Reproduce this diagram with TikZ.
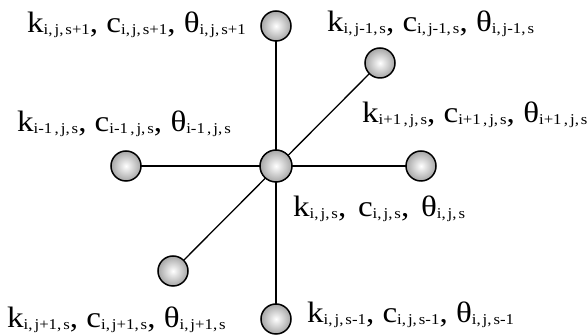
\documentclass[tikz,border=0pt]{standalone}
\usepackage{fontspec}
\setmainfont{Liberation Serif}
\newcommand\sbs[1]{\raisebox{-2pt}{\fontsize{15}{15}\selectfont #1}}
\newcommand\cm{,\kern1.8pt}
\newcommand\cgap{, }
\newcommand\wgap{,\hspace{10.5pt}}
\newcommand\lbl[1]{\scalebox{1.12}[1]{\fontsize{29.5}{29.5}\selectfont #1}}
\begin{document}
\begin{tikzpicture}[x=1pt,y=-1pt,
  ball/.style={circle,draw=black,line width=1.5pt,minimum size=30pt,inner sep=0pt,
    shading=radial,inner color=white,outer color=black!35},
  bigball/.style={ball,minimum size=32pt},
  link/.style={line width=1.3pt,draw=black},
  txt/.style={anchor=base west,inner sep=0pt,text=black}]
\useasboundingbox (0,0) rectangle (587,336);
\coordinate (pc) at (276,166);
\coordinate (pt) at (276,26);
\coordinate (ptr) at (380,63);
\coordinate (pl) at (126,166);
\coordinate (pr) at (421,166);
\coordinate (pbl) at (173,271);
\coordinate (pb) at (276,319);
\draw[link] (pt) -- (pb);
\draw[link] (pl) -- (pr);
\draw[link] (ptr) -- (pbl);
\node[ball] (t) at (pt) {};
\node[ball] (tr) at (ptr) {};
\node[ball] (l) at (pl) {};
\node[ball] (r) at (pr) {};
\node[ball] (bl) at (pbl) {};
\node[ball] (b) at (pb) {};
\node[bigball] (c) at (pc) {};
\node[txt] (lt) at (27,33) {\lbl{k\sbs{i\cm j\cm s+1}\cgap c\sbs{i\cm j\cm s+1}\cgap θ\sbs{i\cm j\cm s+1}}};
\node[txt] (ltr) at (327,32) {\lbl{k\sbs{i\cm j-1\cm s}\cgap c\sbs{i\cm j-1\cm s}\cgap θ\sbs{i\cm j-1\cm s}}};
\node[txt] (ll) at (17,132) {\lbl{k\sbs{i-1\kern2pt\cm j\cm s}\cgap c\sbs{i-1\kern2pt\cm j\cm s}\cgap θ\sbs{i-1\kern2pt\cm j\cm s}}};
\node[txt] (lr) at (362,123) {\lbl{k\sbs{i+1\kern2pt\cm j\cm s}\cgap c\sbs{i+1\kern2pt\cm j\cm s}\cgap θ\sbs{i+1\kern2pt\cm j\cm s}}};
\node[txt] (lc) at (293,217) {\lbl{k\sbs{i\cm j\cm s}\wgap c\sbs{i\cm j\cm s}\wgap θ\sbs{i\cm j\cm s}}};
\node[txt] (lbl) at (7,328) {\lbl{k\sbs{i\cm j+1\cm s}\cgap c\sbs{i\cm j+1\cm s}\cgap θ\sbs{i\cm j+1\cm s}}};
\node[txt] (lb) at (307,323) {\lbl{k\sbs{i\cm j\cm s-1}\cgap c\sbs{i\cm j\cm s-1}\cgap θ\sbs{i\cm j\cm s-1}}};
\end{tikzpicture}
\end{document}
